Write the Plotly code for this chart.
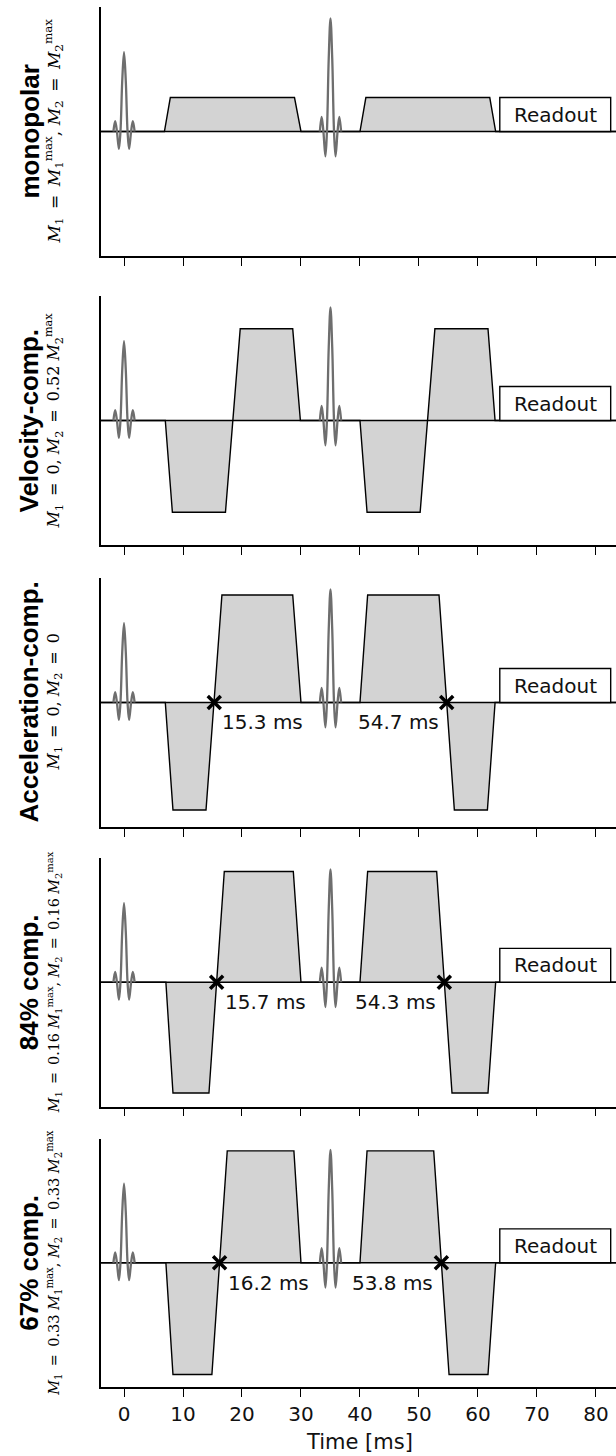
import plotly.graph_objects as go

W, H = 616, 1456

# ---------------- data ----------------
time_ticks = [0, 10, 20, 30, 40, 50, 60, 70, 80]
x_range = [-3.9, 83.4]

panel_titles = ["monopolar", "Velocity-comp.", "Acceleration-comp.", "84% comp.", "67% comp."]
EQ = "\u2002=\u2002"
panel_moments = [
    f"<i>M</i><sub>1</sub>{EQ}<i>M</i><sub>1</sub><sup>max</sup>, <i>M</i><sub>2</sub>{EQ}<i>M</i><sub>2</sub><sup>max</sup>",
    f"<i>M</i><sub>1</sub>{EQ}0, <i>M</i><sub>2</sub>{EQ}0.52 <i>M</i><sub>2</sub><sup>max</sup>",
    f"<i>M</i><sub>1</sub>{EQ}0, <i>M</i><sub>2</sub>{EQ}0",
    f"<i>M</i><sub>1</sub>{EQ}0.16 <i>M</i><sub>1</sub><sup>max</sup>, <i>M</i><sub>2</sub>{EQ}0.16 <i>M</i><sub>2</sub><sup>max</sup>",
    f"<i>M</i><sub>1</sub>{EQ}0.33 <i>M</i><sub>1</sub><sup>max</sup>, <i>M</i><sub>2</sub>{EQ}0.33 <i>M</i><sub>2</sub><sup>max</sup>",
]
moment_font_sizes = [17, 16, 16, 14.3, 14.5]

# gradient waveforms: time [ms] and normalized amplitude
grad_time_1 = [-3.9, 6.85, 7.85, 28.9, 30.0, 40.0, 41.0, 62.0, 63.0, 83.4]
grad_amp_1 = [0, 0, 0.30, 0.30, 0, 0, 0.30, 0.30, 0, 0]

grad_time_2 = [-3.9, 7.0, 8.2, 17.2, 19.7, 28.6, 29.9, 40.0, 41.2, 50.2, 52.7, 61.7, 62.9, 83.4]
grad_amp_2 = [0, 0, -0.81, -0.81, 0.81, 0.81, 0, 0, -0.81, -0.81, 0.81, 0.81, 0, 0]

grad_time_3 = [-3.9, 7.0, 8.3, 13.9, 16.6, 28.6, 30.0, 40.0, 41.3, 53.4, 56.0, 61.6, 62.9, 83.4]
grad_amp_3 = [0, 0, -0.95, -0.95, 0.95, 0.95, 0, 0, 0.95, 0.95, -0.95, -0.95, 0, 0]

grad_time_4 = [-3.9, 7.1, 8.3, 14.4, 17.0, 28.7, 30.0, 40.0, 41.3, 53.0, 55.6, 61.7, 63.0, 83.4]
grad_amp_4 = [0, 0, -0.98, -0.98, 0.98, 0.98, 0, 0, 0.98, 0.98, -0.98, -0.98, 0, 0]

grad_time_5 = [-3.9, 7.1, 8.3, 14.9, 17.5, 28.8, 30.0, 40.0, 41.2, 52.5, 55.1, 61.7, 63.0, 83.4]
grad_amp_5 = [0, 0, -0.99, -0.99, 0.99, 0.99, 0, 0, 0.99, 0.99, -0.99, -0.99, 0, 0]

grad_times = [grad_time_1, grad_time_2, grad_time_3, grad_time_4, grad_time_5]
grad_amps = [grad_amp_1, grad_amp_2, grad_amp_3, grad_amp_4, grad_amp_5]

# RF pulse shape, offsets in ms and normalized amplitude
rf_offsets = [-1.8, -1.5, -1.2, -0.86, -0.6, -0.3, 0, 0.3, 0.6, 0.86, 1.2, 1.5, 1.8]
rf_shape = [0, 0.13, 0, -0.22, 0, 0.64, 1.0, 0.64, 0, -0.22, 0, 0.13, 0]
rf_centers = [0, 35]
rf_amps = [0.70, 1.0]

readout_start, readout_end, readout_height = 63.7, 82.5, 0.30

zero_cross = [[], [], [15.3, 54.7], [15.7, 54.3], [16.2, 53.8]]
zero_labels = [[], [], ["15.3 ms", "54.7 ms"], ["15.7 ms", "54.3 ms"], ["16.2 ms", "53.8 ms"]]

# ---------------- layout geometry (pixels) ----------------
panel_tops = [7, 296, 578, 858, 1138.5]
panel_bottoms = [256, 545, 827, 1106.5, 1387]
x_left_px = 101
y_lim = 1.1

fig = go.Figure()
layout = dict(
    width=W, height=H,
    margin=dict(l=0, r=0, t=0, b=0),
    paper_bgcolor="white", plot_bgcolor="white",
    showlegend=False,
    font=dict(family="DejaVu Sans", size=20, color="black"),
)
annotations = []
shapes = []

for i in range(5):
    n = i + 1
    xa = "x" if n == 1 else f"x{n}"
    ya = "y" if n == 1 else f"y{n}"
    ydom = [1 - panel_bottoms[i] / H, 1 - panel_tops[i] / H]
    layout["xaxis" if n == 1 else f"xaxis{n}"] = dict(
        domain=[x_left_px / W, 1], range=x_range, anchor=ya,
        showline=True, linecolor="black", linewidth=1.5, mirror=False,
        ticks="outside", ticklen=8, tickwidth=1.3, tickcolor="black",
        tickvals=time_ticks, ticktext=[str(v) for v in time_ticks],
        showticklabels=(n == 5), showgrid=False, zeroline=False,
        tickfont=dict(family="DejaVu Sans", size=20, color="#111"),
        automargin=False,
    )
    layout["yaxis" if n == 1 else f"yaxis{n}"] = dict(
        domain=ydom, range=[-y_lim, y_lim], anchor=xa,
        showline=True, linecolor="black", linewidth=1.5,
        ticks="", showticklabels=False, showgrid=False, zeroline=False,
        automargin=False,
    )

    # gradients
    fig.add_trace(go.Scatter(
        x=grad_times[i], y=grad_amps[i], xaxis=xa, yaxis=ya, mode="lines",
        line=dict(color="black", width=1.4), fill="tozeroy", fillcolor="#d3d3d3",
        hoverinfo="skip",
    ))
    # baseline across the whole time axis
    fig.add_trace(go.Scatter(
        x=x_range, y=[0, 0], xaxis=xa, yaxis=ya, mode="lines",
        line=dict(color="black", width=1.4), hoverinfo="skip",
    ))
    # RF pulses
    for c, a in zip(rf_centers, rf_amps):
        fig.add_trace(go.Scatter(
            x=[c + o for o in rf_offsets], y=[a * s for s in rf_shape],
            xaxis=xa, yaxis=ya, mode="lines",
            line=dict(color="#6e6e6e", width=2.3, shape="spline", smoothing=1.0),
            hoverinfo="skip",
        ))
    # readout box
    shapes.append(dict(type="rect", xref=xa, yref=ya,
                       x0=readout_start, x1=readout_end, y0=0, y1=readout_height,
                       line=dict(color="black", width=1.4), fillcolor="white", layer="above"))
    annotations.append(dict(x=(readout_start + readout_end) / 2, y=readout_height / 2,
                            xref=xa, yref=ya, text="Readout", showarrow=False,
                            font=dict(family="DejaVu Sans", size=20, color="#111"),
                            xanchor="center", yanchor="middle"))
    # zero crossing markers
    if zero_cross[i]:
        fig.add_trace(go.Scatter(
            x=zero_cross[i], y=[0] * len(zero_cross[i]), xaxis=xa, yaxis=ya,
            mode="markers",
            marker=dict(symbol="x-thin", size=13, line=dict(color="black", width=3.5)),
            hoverinfo="skip",
        ))
        for k, (t, lab) in enumerate(zip(zero_cross[i], zero_labels[i])):
            annotations.append(dict(
                x=t, y=0, xref=xa, yref=ya, text=lab, showarrow=False,
                xanchor="left" if k == 0 else "right", yanchor="middle",
                xshift=6 if k == 0 else -6, yshift=-20,
                font=dict(family="DejaVu Sans", size=20, color="#111")))

    # row labels
    yc = 1 - (panel_tops[i] + panel_bottoms[i]) / 2 / H
    annotations.append(dict(x=29 / W, y=yc, xref="paper", yref="paper",
                            text=f"<b>{panel_titles[i]}</b>", showarrow=False, textangle=-90,
                            xanchor="center", yanchor="middle",
                            font=dict(family="Liberation Sans", size=26, color="black")))
    annotations.append(dict(x=54 / W, y=yc, xref="paper", yref="paper",
                            text=panel_moments[i], showarrow=False, textangle=-90,
                            xanchor="center", yanchor="middle",
                            font=dict(family="DejaVu Serif", size=moment_font_sizes[i], color="black")))

annotations.append(dict(x=40, y=1 - 1441.7 / H, xref="x5", yref="paper",
                        text="Time [ms]", showarrow=False, xanchor="center", yanchor="middle",
                        font=dict(family="DejaVu Sans", size=21, color="#111")))

layout["annotations"] = annotations
layout["shapes"] = shapes
fig.update_layout(**layout)
fig.write_html("out.html")
